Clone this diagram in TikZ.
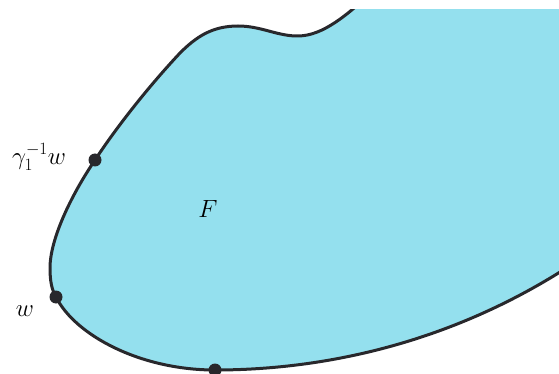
\documentclass[tikz,border=0pt]{standalone}
\definecolor{regionfill}{RGB}{148,224,238}
\definecolor{edge}{RGB}{40,40,44}
\tikzset{
  outline/.style={draw=edge,line width=3pt,line join=round},
  pt/.style={circle,fill=edge,inner sep=0pt,minimum size=13pt},
  lbl/.style={font=\fontsize{27}{32}\selectfont}
}
\begin{document}
\begin{tikzpicture}[x=1pt,y=-1pt]
\useasboundingbox (0,0) rectangle (559,374);
\begin{scope}
\clip (0,10) rectangle (559,380);
\def\bd{(372,-8) .. controls (340,22) and (318,37) .. (295,36)
  .. controls (275,35) and (260,26) .. (238,26)
  .. controls (212,26) and (196,37) .. (180,53)
  .. controls (150,85) and (118,125) .. (95,160)
  .. controls (70,197) and (50,240) .. (50,268)
  .. controls (50,282) and (52,290) .. (56,297)
  .. controls (75,335) and (140,370) .. (215,370)
  .. controls (330,370) and (470,340) .. (600,245)}
\fill[regionfill] \bd -- (620,-20) -- cycle;
\draw[outline] \bd;
\end{scope}
\node[pt] (g) at (95,160) {};
\node[pt] (w) at (56,297) {};
\node[pt] (b) at (215,370) {};
\node[lbl] (lg) at (39,157) {$\gamma_1^{-1}w$};
\node[lbl] (lw) at (25,311) {$w$};
\node[lbl] (lF) at (208,209) {$F$};
\end{tikzpicture}
\end{document}
